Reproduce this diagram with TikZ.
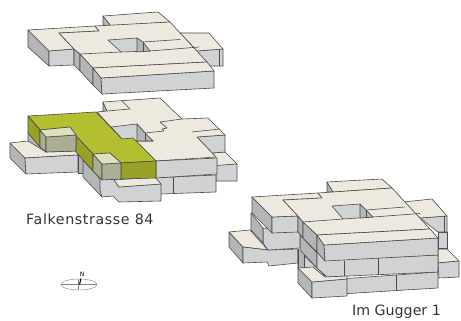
\documentclass[tikz,border=0pt]{standalone}
\usepackage{fontspec}
\setmainfont{DejaVu Sans}
\definecolor{creamc}{HTML}{EDE9DF}
\definecolor{frontc}{HTML}{D1D2D4}
\definecolor{sidec}{HTML}{B4B5B7}
\definecolor{greenc}{HTML}{B3BE30}
\definecolor{greend}{HTML}{98A126}
\definecolor{olivet}{HTML}{DFE0BE}
\definecolor{olived}{HTML}{ABAE92}
\definecolor{linec}{HTML}{4A4A4A}
\tikzset{
 every path/.style={line join=round},
 roofface/.style={draw=linec,line width=0.6pt,fill=creamc},
 frontface/.style={draw=linec,line width=0.6pt,fill=frontc},
 sideface/.style={draw=linec,line width=0.6pt,fill=sidec},
 greentop/.style={draw=linec,line width=0.6pt,fill=greenc},
 greenside/.style={draw=linec,line width=0.6pt,fill=greend},
 olivetop/.style={draw=linec,line width=0.6pt,fill=olivet},
 oliveside/.style={draw=linec,line width=0.6pt,fill=olived},
 seam/.style={draw=linec,line width=0.6pt},
 label/.style={inner sep=0pt,font=\fontsize{14.2}{16}\selectfont,text=black!80,anchor=base west}
}
\begin{document}
\begin{tikzpicture}[x=1pt,y=-1pt]
\useasboundingbox (0,0) rectangle (461,321);
% ---------- top building
\path[sideface] (103,16)--(111,26)--(111,30)--(103,25)--cycle;
\path[roofface] (103,16)--(158,12)--(170,22)--(111,26)--cycle;
\path[frontface] (197,51)--(223,49)--(223,66)--(207,66)--cycle;
\path[seam] (219,50)--(219,66);
\path[sideface] (180,33)--(186,41)--(180,41)--cycle;
\path[roofface] (180,33)--(209,33)--(223,49)--(197,51)--cycle;
\path[sideface] (28,30)--(49,51)--(49,66)--(28,47)--cycle;
\path[frontface] (49,51)--(74,49)--(74,65)--(49,66)--cycle;
\path[roofface] (28,30)--(95,26)--(99,31)--(59,33)--(74,49)--(49,51)--cycle;
\path[sideface] (74,49)--(80,54)--(80,71)--(74,65)--cycle;
\path[sideface] (80,54)--(93,68)--(93,85)--(80,71)--cycle;
\path[sideface] (93,68)--(101,78)--(102,94)--(93,85)--cycle;
\path[frontface] (101,78)--(214,71)--(214,88)--(102,94)--cycle;
\path[roofface] (59,33)--(99,31)--(95,26)--(170,22)--(207,62)--(93,68)--(80,54)--(74,49)--cycle;
\path[frontface] (108,40)--(137,38)--(150,51)--(121,52)--cycle;
\path[sideface] (137,38)--(143,42)--(150,51)--(137,52)--cycle;
\path[seam] (143,42)--(143,51.5);
\path[seam] (80,54)--(121,52);
\path[seam] (143,42)--(180,39.5);
\path[seam] (150,51)--(199,47);
\path[roofface] (93,68)--(207,62)--(214,71)--(101,78)--cycle;
% ---------- middle building: lower layer
\path[roofface] (213,153)--(225,152)--(237,164)--(216,166)--cycle;
\path[frontface] (216,165.5)--(237,164)--(237,181)--(216,181)--cycle;
\path[frontface] (150,178)--(216,175)--(216,192)--(161,194)--(150,194)--cycle;
\path[seam] (173,177)--(173,193);
\path[sideface] (28,133)--(46,152)--(46,156)--(40,156)--(28,141)--cycle;
\path[sideface] (10,143)--(25,158)--(26,174)--(10,158)--cycle;
\path[roofface] (10,143)--(28,141)--(46,152)--(78,151)--(78,155)--(25,158)--cycle;
\path[frontface] (25,158)--(78,155)--(78,172)--(26,174)--cycle;
\path[sideface] (78,150)--(83,150)--(83,173)--(78,173)--cycle;
\path[sideface] (83,160)--(103,182)--(102,197)--(83,177)--cycle;
\path[frontface] (100,170)--(114,180)--(119,187)--(161,184)--(161,201)--(119,202)--(113,196)--(102,197)--(100,190)--cycle;
\path[roofface] (114,180)--(155,177)--(161,184)--(119,187)--cycle;
% ---------- middle building: upper layer
\path[sideface] (103,102)--(107,111)--(103,112)--cycle;
\path[frontface] (197,137)--(225,135)--(225,152)--(212,153)--cycle;
\path[roofface] (97,112)--(107,111)--(103,102)--(160,98)--(182,119)--(208,118)--(225,135)--(197,137)--(216,157)--(156,161)--(133,138)--(122,139)--cycle;
\path[seam] (107,111)--(130,109)--(122,101);
\path[seam] (192,132)--(220,129);
\path[seam] (145,133)--(164,131)--(162,129)--(167,128)--(160,122)--(182,119);
\path[frontface] (111,127)--(137,124)--(145,133)--(153,141)--(137,141)--(122,139)--cycle;
\path[sideface] (137,124)--(145,133)--(153,141)--(137,141)--cycle;
\path[seam] (145,133)--(145,141);
\path[frontface] (156,161)--(217,158)--(217,174)--(156,178)--cycle;
\path[greentop] (28,116)--(96,112)--(122,139)--(133,138)--(156,161)--(121,163)--(110,153)--(93,154)--(76,136)--(70,127)--(40,130)--cycle;
\path[greenside] (28,116)--(40,130)--(40,147)--(28,133)--cycle;
\path[greenside] (76,136)--(93,154)--(93,171)--(76,152)--cycle;
\path[greenside] (121,163)--(156,161)--(156,178)--(121,179)--cycle;
\path[oliveside] (40,130)--(46,137)--(46,152)--(40,147)--cycle;
\path[oliveside] (46,137)--(76,135)--(76,151)--(46,152)--cycle;
\path[olivetop] (40,130)--(70,127)--(76,135)--(46,137)--cycle;
\path[oliveside] (93,154)--(102,164)--(102,180)--(93,171)--cycle;
\path[oliveside] (102,164)--(121,163)--(121,179)--(102,180)--cycle;
\path[olivetop] (93,154)--(110,153)--(121,163)--(102,164)--cycle;
% ---------- right building: lowest
\path[roofface] (438,249)--(447,249)--(459,261)--(438,263)--cycle;
\path[frontface] (438,263)--(459,261)--(459,277)--(439,278)--cycle;
\path[frontface] (340,279)--(438,272)--(438,288)--(340,294)--cycle;
\path[seam] (396,275)--(396,290);
% layer 3 left
\path[sideface] (229,232)--(243,247)--(243,263)--(229,247)--cycle;
\path[roofface] (229,232)--(250,230)--(268,250)--(243,247)--cycle;
\path[frontface] (243,247)--(268,250)--(298,249)--(298,263)--(269,266)--(267,262)--(243,263)--cycle;
% space under layer 2
\path[frontface] (298,250)--(317,268)--(327,277)--(345,277)--(345,281)--(298,268)--cycle;
\path[sideface,draw=none] (298,249)--(304,255)--(304,268)--(298,268)--cycle;
\path[seam] (298,249)--(298,268);
\path[seam] (304,255)--(304,268);
% layer 2
\path[sideface] (300,235)--(317,253)--(317,268)--(300,250)--cycle;
\path[frontface] (317,252)--(325,260)--(438,255)--(438,272)--(327,277)--(317,268)--cycle;
\path[seam] (344,261)--(344,277);
\path[seam] (378,258)--(378,275);
\path[frontface] (263,228)--(300,232)--(300,248)--(268,250)--(263,243)--cycle;
\path[sideface] (251,213)--(263,228)--(263,243)--(251,230)--cycle;
\path[frontface] (438,232)--(447,232)--(447,248)--(438,248)--cycle;
% front most block
\path[sideface] (298,268)--(312,282)--(312,298)--(298,283)--cycle;
\path[frontface] (312,282)--(347,279)--(347,296)--(312,298)--cycle;
\path[roofface] (298,268)--(313,267)--(325,277)--(347,276)--(347,279)--(312,282)--cycle;
% top level
\path[sideface] (327,182)--(333,192)--(327,192)--cycle;
\path[roofface] (327,182)--(382,179)--(392,188)--(333,192)--cycle;
\path[frontface] (420,218)--(447,216)--(447,232)--(438,232)--cycle;
\path[seam] (444,216)--(444,232);
\path[roofface] (403,202)--(432,199)--(447,216)--(420,218)--cycle;
\path[sideface] (252,197)--(272,217)--(272,233)--(252,213)--cycle;
\path[frontface] (272,217)--(298,216)--(298,232)--(272,233)--cycle;
\path[roofface] (252,197)--(318,193)--(322,198)--(283,200)--(298,216)--(272,217)--cycle;
\path[sideface] (298,216)--(303,222)--(303,238)--(298,232)--cycle;
\path[sideface] (303,222)--(317,235)--(317,252)--(303,238)--cycle;
\path[sideface] (317,235)--(324,245)--(325,261)--(317,252)--cycle;
\path[frontface] (324,245)--(438,238)--(438,255)--(325,261)--cycle;
\path[roofface] (283,200)--(322,198)--(318,193)--(392,188)--(430,229)--(317,235)--(303,222)--(298,216)--cycle;
\path[frontface] (332,206)--(360,204)--(373,217)--(343,219)--cycle;
\path[sideface] (360,204)--(366,210)--(373,217)--(360,218)--cycle;
\path[seam] (366,210)--(366,217.5);
\path[seam] (366,210)--(405,207);
\path[seam] (373,217)--(420,213.5);
\path[seam] (303,222)--(343,219);
\path[roofface] (317,235)--(430,229)--(438,238)--(324,245)--cycle;
% ---------- labels
\node[label] (falken) at (26,224) {\addfontfeature{LetterSpace=4.4}Falkenstrasse 84};
\node[label] (gugger) at (352,315) {Im Gugger 1};
% ---------- compass
\draw[gray,line width=0.4pt] (79,284.5) ellipse [x radius=18,y radius=5.5];
\draw[gray,line width=0.4pt] (61,284.5)--(97,284.5) (78,279)--(78,290);
\draw[black,line width=1pt] (81,278.5)--(79.5,284.5);
\node[inner sep=0pt,font=\fontsize{6}{6}\selectfont] (north) at (82,274) {N};
\end{tikzpicture}
\end{document}
